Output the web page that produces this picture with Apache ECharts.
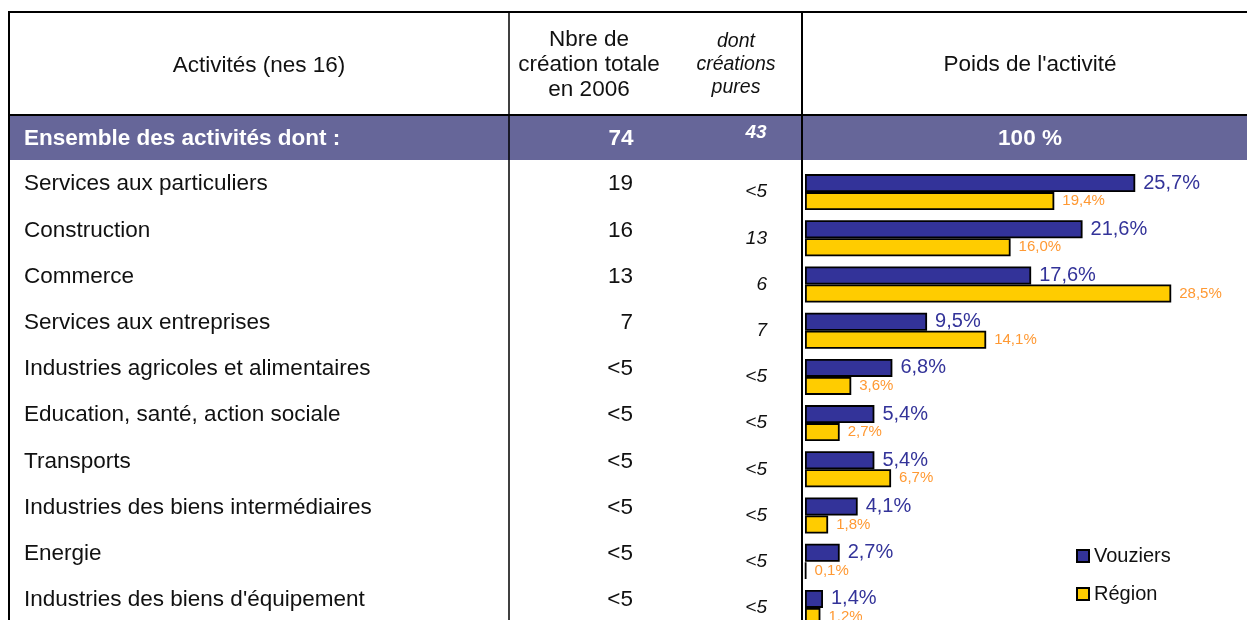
<!DOCTYPE html>
<html><head><meta charset="utf-8">
<script src="https://cdn.jsdelivr.net/npm/echarts@6/dist/echarts.min.js"></script>
<style>html,body{margin:0;padding:0;background:#fff;overflow:hidden}#c{width:1247px;height:640px}</style>
</head><body><div id="c"></div>
<script>
const categories = ["Services aux particuliers","Construction","Commerce","Services aux entreprises","Industries agricoles et alimentaires","Education, santé, action sociale","Transports","Industries des biens intermédiaires","Energie","Industries des biens d'équipement"];
const totals = ["19","16","13","7","<5","<5","<5","<5","<5","<5"];
const pures = ["<5","13","6","7","<5","<5","<5","<5","<5","<5"];
const vouziers = [25.7,21.6,17.6,9.5,6.8,5.4,5.4,4.1,2.7,1.4];
const region = [19.4,16.0,28.5,14.1,3.6,2.7,6.7,1.8,0.1,1.2];
const headActivites = "Activités (nes 16)";
const headTotal = ["Nbre de","création totale","en 2006"];
const headPures = ["dont","créations","pures"];
const headPoids = "Poids de l'activité";
const ensembleLabel = "Ensemble des activités dont :";
const ensembleTotal = "74";
const ensemblePures = "43";
const ensemblePoids = "100 %";

const FONT = "Liberation Sans, Arial, sans-serif";
const fmt = v => v.toFixed(1).replace('.', ',') + '%';

const chart = echarts.init(document.getElementById('c'), null, {renderer:'canvas'});
const graphics = [
  {type:'rect', shape:{x:8,y:116,width:1239,height:44}, style:{fill:'#666699'}, z:0},
  {type:'line', shape:{x1:8,y1:12,x2:1247,y2:12}, style:{stroke:'#000',lineWidth:2}},
  {type:'line', shape:{x1:8,y1:115,x2:1247,y2:115}, style:{stroke:'#000',lineWidth:2}},
  {type:'line', shape:{x1:9,y1:12,x2:9,y2:640}, style:{stroke:'#000',lineWidth:2}},
  {type:'line', shape:{x1:509,y1:12,x2:509,y2:640}, style:{stroke:'#000',lineWidth:1.5}},
  {type:'line', shape:{x1:802,y1:12,x2:802,y2:640}, style:{stroke:'#000',lineWidth:2}},
  {type:'text', x:259, y:66, style:{text:headActivites, font:'22.5px '+FONT, fill:'#111', textAlign:'center', textVerticalAlign:'middle'}},
  {type:'text', x:1030, y:65, style:{text:headPoids, font:'22.5px '+FONT, fill:'#111', textAlign:'center', textVerticalAlign:'middle'}},
  {type:'text', x:24, y:139, style:{text:ensembleLabel, font:'bold 22.5px '+FONT, fill:'#fff', textAlign:'left', textVerticalAlign:'middle'}},
  {type:'text', x:621, y:139, style:{text:ensembleTotal, font:'bold 22.5px '+FONT, fill:'#fff', textAlign:'center', textVerticalAlign:'middle'}},
  {type:'text', x:756, y:133, style:{text:ensemblePures, font:'italic bold 19px '+FONT, fill:'#fff', textAlign:'center', textVerticalAlign:'middle'}},
  {type:'text', x:1030, y:139, style:{text:ensemblePoids, font:'bold 22.5px '+FONT, fill:'#fff', textAlign:'center', textVerticalAlign:'middle'}}
];
headTotal.forEach((t,i)=>graphics.push({type:'text', x:589, y:40+i*25, style:{text:t, font:'22.5px '+FONT, fill:'#111', textAlign:'center', textVerticalAlign:'middle'}}));
headPures.forEach((t,i)=>graphics.push({type:'text', x:736, y:42+i*23, style:{text:t, font:'italic 19.5px '+FONT, fill:'#111', textAlign:'center', textVerticalAlign:'middle'}}));

const option = {
  animation:false,
  backgroundColor:'#fff',
  textStyle:{fontFamily:FONT},
  grid:{left:805, top:169, width:385.5, height:462, containLabel:false},
  xAxis:{type:'value', min:0, max:30, show:false},
  yAxis:[
    {type:'category', data:categories, inverse:true, position:'left', offset:0,
     axisLine:{show:false}, axisTick:{show:false},
     axisLabel:{align:'left', margin:781, fontSize:22.5, color:'#111', fontFamily:FONT, verticalAlign:'bottom', lineHeight:16}},
    {type:'category', data:totals, inverse:true, position:'left', offset:0,
     axisLine:{show:false}, axisTick:{show:false},
     axisLabel:{align:'right', margin:172, fontSize:22.5, color:'#111', fontFamily:FONT, verticalAlign:'bottom', lineHeight:16}},
    {type:'category', data:pures, inverse:true, position:'left', offset:0,
     axisLine:{show:false}, axisTick:{show:false},
     axisLabel:{align:'right', margin:38, fontSize:19, fontStyle:'italic', color:'#111', fontFamily:FONT}}
  ],
  legend:{data:['Vouziers','Région'], orient:'vertical', left:1071, top:540, itemWidth:12, itemHeight:12, itemGap:16, icon:'rect',
    textStyle:{fontSize:20, color:'#111', fontFamily:FONT, lineHeight:22}},
  series:[
    {name:'Vouziers', type:'bar', data:vouziers, barWidth:18, barGap:'0%',
     itemStyle:{color:'#333399', borderColor:'#000', borderWidth:1.8},
     label:{show:true, position:'right', distance:8, color:'#333399', fontSize:20, fontFamily:FONT, formatter:p=>fmt(p.value)}},
    {name:'Région', type:'bar', data:region, barWidth:18, barGap:'0%',
     itemStyle:{color:'#FFCC00', borderColor:'#000', borderWidth:1.8},
     label:{show:true, position:'right', distance:8, color:'#FF9933', fontSize:15, fontFamily:FONT, formatter:p=>fmt(p.value)}}
  ],
  graphic:graphics
};
chart.setOption(option);
</script></body></html>
